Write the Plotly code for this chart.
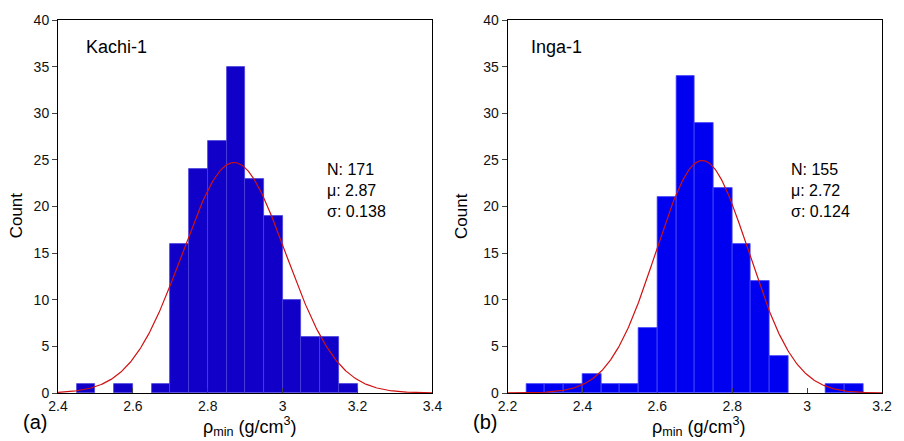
import numpy as np
import plotly.graph_objects as go

BIN_W = 0.05

# Panel (a) Kachi-1
kachi_bin_left = [2.45, 2.55, 2.65, 2.70, 2.75, 2.80, 2.85, 2.90, 2.95, 3.00, 3.05, 3.10, 3.15]
kachi_counts = [1, 1, 1, 16, 24, 27, 35, 23, 19, 10, 6, 6, 1]
kachi_N, kachi_mu, kachi_sigma = 171, 2.87, 0.138

# Panel (b) Inga-1
inga_bin_left = [2.25, 2.30, 2.35, 2.40, 2.45, 2.50, 2.55, 2.60, 2.65, 2.70, 2.75,
                 2.80, 2.85, 2.90, 3.05, 3.10]
inga_counts = [1, 1, 1, 2, 1, 1, 7, 21, 34, 29, 22, 16, 12, 4, 1, 1]
inga_N, inga_mu, inga_sigma = 155, 2.72, 0.124

x_ticks_a = [2.4, 2.6, 2.8, 3.0, 3.2, 3.4]
x_ticks_b = [2.2, 2.4, 2.6, 2.8, 3.0, 3.2]
y_ticks = [0, 5, 10, 15, 20, 25, 30, 35, 40]

FONT = "Liberation Sans, Arial, sans-serif"

fig = go.Figure()


def gauss(xr, N, mu, s):
    x = np.linspace(xr[0], xr[1], 400)
    y = N * BIN_W / (s * np.sqrt(2 * np.pi)) * np.exp(-0.5 * ((x - mu) / s) ** 2)
    return x, y


panels = [
    dict(left=kachi_bin_left, cnt=kachi_counts, N=kachi_N, mu=kachi_mu, s=kachi_sigma,
         color="#1000C8", edge="#4A40DC", xa="x", ya="y", xr=[2.4, 3.4]),
    dict(left=inga_bin_left, cnt=inga_counts, N=inga_N, mu=inga_mu, s=inga_sigma,
         color="#0000F0", edge="#4848FA", xa="x2", ya="y2", xr=[2.2, 3.2]),
]

for p in panels:
    centers = [l + BIN_W / 2 for l in p["left"]]
    fig.add_trace(go.Bar(x=centers, y=p["cnt"], width=[BIN_W] * len(centers),
                         marker=dict(color=p["color"], line=dict(color=p["edge"], width=0.8)),
                         xaxis=p["xa"], yaxis=p["ya"], showlegend=False))
    gx, gy = gauss(p["xr"], p["N"], p["mu"], p["s"])
    fig.add_trace(go.Scatter(x=gx, y=gy, mode="lines", line=dict(color="#D01010", width=1.2),
                             xaxis=p["xa"], yaxis=p["ya"], showlegend=False))

L, R, T, B = 58, 12, 14, 48
W, H = 904, 441
pw = W - L - R
ph = H - T - B

def px(x):
    return (x - L) / pw

def py(y):
    return (H - B - y) / ph

axis_common = dict(showline=True, linecolor="black", linewidth=1, mirror=True,
                   showgrid=False, zeroline=False,
                   tickfont=dict(family=FONT, size=14, color="#111"))

fig.update_layout(
    width=W, height=H,
    margin=dict(l=L, r=R, t=T, b=B),
    paper_bgcolor="white", plot_bgcolor="white",
    bargap=0,
    font=dict(family=FONT, color="black"),
    xaxis=dict(domain=[0, px(437)], range=[2.4, 3.4], tickvals=x_ticks_a,
               ticktext=["2.4", "2.6", "2.8", "3", "3.2", "3.4"],
               ticks="inside", ticklen=5, tickcolor="#444", **axis_common),
    yaxis=dict(domain=[0, 1], range=[0, 40], tickvals=y_ticks,
               ticks="outside", ticklen=5, tickcolor="#444", anchor="x", **axis_common),
    xaxis2=dict(domain=[px(513), 1], range=[2.2, 3.2], tickvals=x_ticks_b,
                ticktext=["2.2", "2.4", "2.6", "2.8", "3", "3.2"],
                ticks="inside", ticklen=5, tickcolor="#444", anchor="y2", **axis_common),
    yaxis2=dict(domain=[0, 1], range=[0, 40], tickvals=y_ticks,
                ticks="outside", ticklen=5, tickcolor="#444", anchor="x2", **axis_common),
)

ann = []
def add(text, x, y, size, xanchor="left", yanchor="middle", angle=0):
    ann.append(dict(text=text, x=px(x), y=py(y), xref="paper", yref="paper",
                    xanchor=xanchor, yanchor=yanchor, showarrow=False, textangle=angle,
                    align="left", font=dict(family=FONT, size=size, color="black")))

add("Kachi-1", 84, 41, 18)
add("Inga-1", 535, 41, 18)
add("N: 171<br>μ: 2.87<br>σ: 0.138", 328, 187, 16)
add("N: 155<br>μ: 2.72<br>σ: 0.124", 798, 187, 16)
add("Count", 16, 213, 17, xanchor="center", angle=-90)
add("Count", 467, 213, 17, xanchor="center", angle=-90)
add("ρ<sub>min</sub> (g/cm<sup>3</sup>)", 252, 427, 18, xanchor="center")
add("ρ<sub>min</sub> (g/cm<sup>3</sup>)", 707, 427, 18, xanchor="center")
add("(a)", 21, 422, 20)
add("(b)", 476, 422, 20)
fig.update_layout(annotations=ann)

fig.write_html("out.html", config={"displayModeBar": False})

# remove default page margins so the figure sits at the window's top-left corner
with open("out.html", "r", encoding="utf-8") as f:
    html = f.read()
html = html.replace("<head>", "<head><style>html,body{margin:0;padding:0;overflow:hidden;}</style>", 1)
with open("out.html", "w", encoding="utf-8") as f:
    f.write(html)
